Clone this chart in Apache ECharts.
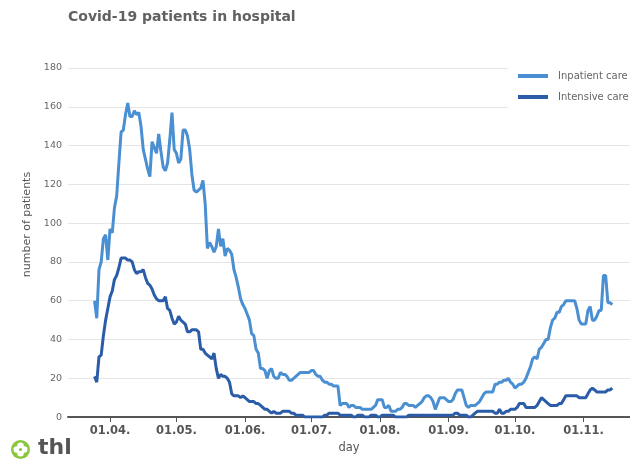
<!DOCTYPE html>
<html>
<head>
<meta charset="utf-8">
<script src="https://cdn.jsdelivr.net/npm/echarts@6/dist/echarts.min.js"></script>
<style>
  html, body { margin: 0; padding: 0; background: #fff; }
  #chart { width: 630px; height: 459px; }
</style>
</head>
<body>
<div id="chart"></div>
<script>
// axis runs 13.3. - 22.11.2020, data 25.3. - 14.11.
const axisStart = "2020-03-13"
const axisEnd = "2020-11-22"
const dataStart = "2020-03-25"
const seriesNames = ["Inpatient care", "Intensive care"]

const inpatientCare = [
  60, 51, 76, 80, 92, 94, 81, 97, 95, 108,
  114, 131, 147, 148, 156, 162, 155, 155, 158, 156,
  157, 150, 138, 133, 128, 124, 142, 139, 136, 146,
  137, 129, 127, 131, 143, 157, 138, 136, 131, 133,
  148, 148, 145, 138, 125, 117, 116, 117, 118, 122,
  110, 87, 90, 88, 85, 88, 97, 88, 92, 83,
  87, 86, 84, 76, 72, 67, 61, 58, 56, 53,
  50, 43, 42, 35, 33, 25, 25, 24, 20, 24,
  25, 21, 20, 20, 23, 22, 22, 21, 19, 19,
  20, 21, 22, 23, 23, 23, 23, 23, 24, 24,
  22, 21, 21, 19, 18, 18, 17, 17, 16, 16,
  16, 6, 7, 7, 7, 5, 6, 6, 5, 5,
  5, 4, 4, 4, 4, 4, 5, 6, 9, 9,
  9, 5, 5, 6, 3, 3, 3, 4, 4, 5,
  7, 7, 6, 6, 6, 5, 6, 7, 8, 10,
  11, 11, 10, 8, 4, 7, 10, 10, 10, 9,
  8, 8, 9, 12, 14, 14, 14, 10, 6, 5,
  6, 6, 6, 7, 8, 10, 12, 13, 13, 13,
  13, 17, 17, 18, 18, 19, 19, 20, 18, 17,
  15, 16, 17, 17, 18, 20, 23, 26, 30, 31,
  30, 35, 36, 38, 40, 40, 46, 50, 51, 54,
  54, 57, 58, 60, 60, 60, 60, 60, 56, 50,
  48, 48, 48, 55, 57, 50, 50, 52, 55, 55,
  73, 73, 59, 59, 58
]

const intensiveCare = [
  21, 18, 31, 32, 42, 50, 56, 62, 65, 71,
  73, 77, 82, 82, 82, 81, 81, 80, 76, 74,
  75, 75, 76, 72, 69, 68, 66, 63, 61, 60,
  60, 60, 62, 56, 55, 51, 48, 49, 52, 50,
  49, 48, 44, 44, 45, 45, 45, 44, 35, 35,
  33, 32, 31, 30, 33, 25, 20, 22, 21, 21,
  20, 18, 12, 11, 11, 11, 10, 11, 10, 9,
  8, 8, 8, 7, 7, 6, 5, 4, 4, 3,
  2, 3, 2, 2, 2, 3, 3, 3, 3, 2,
  2, 1, 1, 1, 1, 0, 0, 0, 0, 0,
  0, 0, 0, 0, 1, 1, 2, 2, 2, 2,
  2, 1, 1, 1, 1, 1, 1, 0, 0, 1,
  1, 1, 0, 0, 0, 1, 1, 1, 0, 0,
  1, 1, 1, 1, 1, 1, 0, 0, 0, 0,
  0, 0, 1, 1, 1, 1, 1, 1, 1, 1,
  1, 1, 1, 1, 1, 1, 1, 1, 1, 1,
  1, 1, 1, 2, 2, 1, 1, 1, 1, 0,
  0, 1, 2, 3, 3, 3, 3, 3, 3, 3,
  3, 2, 2, 4, 2, 2, 3, 3, 4, 4,
  4, 5, 7, 7, 7, 5, 5, 5, 5, 5,
  6, 8, 10, 9, 8, 7, 6, 6, 6, 6,
  7, 7, 9, 11, 11, 11, 11, 11, 11, 10,
  10, 10, 10, 12, 14, 15, 14, 13, 13, 13,
  13, 13, 14, 14, 15
]

const yMax = 180
const yStep = 20

function dayList(from, to) {
  const out = []
  const d = new Date(from + "T00:00:00Z")
  const end = new Date(to + "T00:00:00Z")
  while (d <= end) {
    out.push(d.toISOString().slice(0, 10))
    d.setUTCDate(d.getUTCDate() + 1)
  }
  return out
}

const days = dayList(axisStart, axisEnd)
const offset = days.indexOf(dataStart)
const pad = (arr) => new Array(offset).fill(null).concat(arr)
const isMonthStart = (idx) => days[idx].slice(8) === "01"
const dayLabel = (val) => val.slice(8) + "." + val.slice(5, 7) + "."

const chart = echarts.init(document.getElementById("chart"), null, { renderer: "canvas" })

chart.setOption({
  animation: false,
  textStyle: { fontFamily: "DejaVu Sans" },
  title: {
    text: "Covid-19 patients in hospital",
    left: 68,
    top: 10,
    padding: 0,
    textStyle: { fontSize: 14, fontWeight: "bold", color: "#616161" }
  },
  legend: {
    orient: "vertical",
    left: 508,
    top: 63,
    padding: [8, 10, 8, 10],
    itemGap: 11,
    itemWidth: 30,
    itemHeight: 4,
    icon: "rect",
    backgroundColor: "#fff",
    textStyle: { fontSize: 10, color: "#666", padding: [0, 0, 0, 5] },
    data: seriesNames
  },
  grid: { left: 68, right: 0, top: 68, bottom: 37 },
  xAxis: {
    type: "category",
    data: days,
    boundaryGap: false,
    name: "day",
    nameLocation: "middle",
    nameGap: 23,
    nameTextStyle: { fontSize: 11.5, color: "#555" },
    axisLine: { lineStyle: { color: "#555", width: 2 } },
    axisTick: { interval: (i) => isMonthStart(i), length: 5, lineStyle: { color: "#555" } },
    axisLabel: {
      interval: (i) => isMonthStart(i),
      formatter: dayLabel,
      fontSize: 11.5,
      fontWeight: "bold",
      color: "#555",
      margin: 8
    },
    splitLine: { show: false }
  },
  yAxis: {
    type: "value",
    min: 0,
    max: yMax,
    interval: yStep,
    name: "number of patients",
    nameLocation: "middle",
    nameGap: 28,
    nameTextStyle: { fontSize: 11, color: "#555", padding: [0, 0, 0, 36] },
    axisLine: { show: false },
    axisTick: { show: false },
    axisLabel: { fontSize: 9.5, color: "#666", margin: 6 },
    splitLine: { lineStyle: { color: "#e6e6e6", width: 1 } }
  },
  series: [
    {
      name: seriesNames[0],
      type: "line",
      data: pad(inpatientCare),
      showSymbol: false,
      symbol: "none",
      color: "#4a8fd2",
      lineStyle: { width: 3, color: "#4a8fd2" },
      z: 3
    },
    {
      name: seriesNames[1],
      type: "line",
      data: pad(intensiveCare),
      showSymbol: false,
      symbol: "none",
      color: "#2b5ca8",
      lineStyle: { width: 3, color: "#2b5ca8" },
      z: 4
    }
  ],
  graphic: [
    {
      type: "group",
      left: 11,
      top: 440,
      children: [
        { type: "circle", shape: { cx: 10, cy: 10, r: 9.5 }, style: { fill: "#8cc63e" } },
        { type: "circle", shape: { cx: 10, cy: 6.3, r: 3.3 }, style: { fill: "#fff" } },
        { type: "circle", shape: { cx: 13.7, cy: 10, r: 3.3 }, style: { fill: "#fff" } },
        { type: "circle", shape: { cx: 10, cy: 13.7, r: 3.3 }, style: { fill: "#fff" } },
        { type: "circle", shape: { cx: 6.3, cy: 10, r: 3.3 }, style: { fill: "#fff" } },
        { type: "circle", shape: { cx: 10, cy: 10, r: 1.6 }, style: { fill: "#8cc63e" } }
      ]
    },
    {
      type: "text",
      left: 38,
      top: 437,
      style: { text: "thl", font: "bold 22px DejaVu Sans", fill: "#555" }
    }
  ]
})
</script>
</body>
</html>
